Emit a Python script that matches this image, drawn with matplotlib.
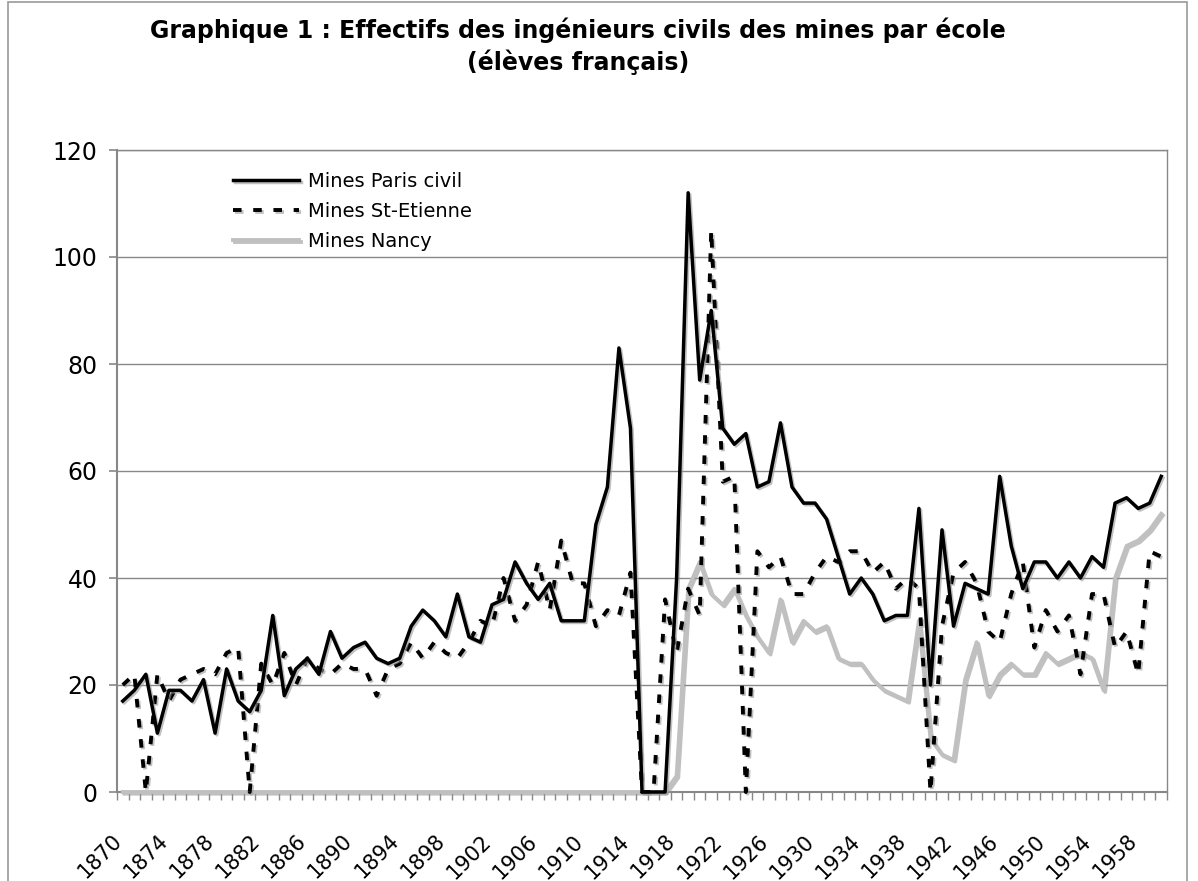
import numpy as np
import matplotlib
matplotlib.use("Agg")
import matplotlib.pyplot as plt
import matplotlib.patheffects as pe
from matplotlib.patches import Rectangle

# Effectifs par école, 1870-1960
years = list(range(1870, 1961))

paris = [17, 19, 22, 11, 19, 19, 17, 21, 11, 23,
         17, 15, 19, 33, 18, 23, 25, 22, 30, 25,
         27, 28, 25, 24, 25, 31, 34, 32, 29, 37,
         29, 28, 35, 36, 43, 39, 36, 39, 32, 32,
         32, 50, 57, 83, 68, 0, 0, 0, 40, 112,
         77, 90, 68, 65, 67, 57, 58, 69, 57, 54,
         54, 51, 44, 37, 40, 37, 32, 33, 33, 53,
         20, 49, 31, 39, 38, 37, 59, 46, 38, 43,
         43, 40, 43, 40, 44, 42, 54, 55, 53, 54,
         59]

st_etienne = [20, 22, 0, 22, 17, 21, 22, 23, 22, 26,
              27, 0, 24, 20, 26, 20, 25, 23, 22, 24,
              23, 23, 18, 23, 24, 28, 25, 28, 26, 25,
              28, 32, 31, 40, 32, 35, 43, 34, 47, 39,
              39, 31, 34, 33, 41, 0, 0, 36, 26, 38,
              33, 105, 58, 59, 0, 45, 42, 44, 37, 37,
              41, 44, 43, 45, 45, 41, 43, 38, 40, 38,
              0, 31, 41, 43, 39, 30, 28, 37, 43, 27,
              34, 30, 33, 22, 37, 37, 27, 30, 22, 45,
              44]

nancy = [0, 0, 0, 0, 0, 0, 0, 0, 0, 0,
         0, 0, 0, 0, 0, 0, 0, 0, 0, 0,
         0, 0, 0, 0, 0, 0, 0, 0, 0, 0,
         0, 0, 0, 0, 0, 0, 0, 0, 0, 0,
         0, 0, 0, 0, 0, 0, 0, 0, 3, 38,
         43, 37, 35, 38, 33, 29, 26, 36, 28, 32,
         30, 31, 25, 24, 24, 21, 19, 18, 17, 32,
         10, 7, 6, 21, 28, 18, 22, 24, 22, 22,
         26, 24, 25, 26, 25, 19, 40, 46, 47, 49,
         52]

labels = ['Mines Paris civil', 'Mines St-Etienne', 'Mines Nancy']
title = ("Graphique 1 : Effectifs des ingénieurs civils des mines par école\n"
         "(élèves français)")

W, H = 1198, 881
fig = plt.figure(figsize=(W / 100, H / 100), dpi=100)
fig.patch.set_facecolor('white')
ax = fig.add_axes([117 / W, 1 - 792 / H, (1167 - 117) / W, (792 - 150) / H])

x = np.arange(len(years))
shadow = [pe.SimpleLineShadow(offset=(1.2, -1.2), shadow_color='#999999', alpha=0.6), pe.Normal()]

ax.plot(x, nancy, color='#c0c0c0', lw=2.8, clip_on=False, zorder=3,
        label=labels[2], path_effects=shadow)
ax.plot(x, st_etienne, color='black', lw=2.8, linestyle=(0, (2.2, 3.0)),
        clip_on=False, zorder=4, label=labels[1], path_effects=shadow)
ax.plot(x, paris, color='black', lw=2.5, clip_on=False, zorder=5,
        label=labels[0], path_effects=shadow)

ax.set_xlim(-0.5, len(years) - 0.5)
ax.set_ylim(0, 120)
ax.set_yticks(range(0, 121, 20))
ax.grid(axis='y', color='#888888', lw=1.0)
ax.set_axisbelow(True)

for s in ax.spines.values():
    s.set_color('#888888')
    s.set_linewidth(1.0)
ax.spines['left'].set_linewidth(1.5)
ax.spines['bottom'].set_linewidth(1.5)

ax.tick_params(axis='y', direction='out', length=6, width=1.2, color='#888888',
               labelsize=17, pad=8)

# tick marks between categories, labels every 4 years
ax.set_xticks(np.arange(-0.5, len(years), 1.0))
ax.set_xticklabels([])
ax.tick_params(axis='x', which='major', direction='out', length=6, width=1.0, color='#888888')
lab_pos = x[::4][:23]
ax.set_xticks(lab_pos, minor=True)
ax.set_xticklabels([str(years[i]) for i in lab_pos], minor=True, rotation=45,
                   ha='right', va='baseline', rotation_mode='anchor', fontsize=15)
ax.tick_params(axis='x', which='minor', length=0, pad=36)

handles, labs = ax.get_legend_handles_labels()
order = [2, 1, 0]
leg = ax.legend([handles[i] for i in order], [labs[i] for i in order],
                loc='upper left', bbox_to_anchor=(233 / W, 1 - 172 / H),
                bbox_transform=fig.transFigure, frameon=False, fontsize=14,
                handlelength=3.4, handletextpad=0.45, labelspacing=0.56,
                borderpad=0, borderaxespad=0)

fig.text(578 / W, 1 - 46 / H, title, ha='center', va='center', fontsize=17,
         fontweight='bold', linespacing=1.3)

fig.patches.append(Rectangle((8 / W, -0.02), (1187 - 8) / W, 1 - 2 / H + 0.02,
                             transform=fig.transFigure, fill=False,
                             edgecolor='#999999', lw=1.2))

fig.savefig('out.png', dpi=100, facecolor='white')
